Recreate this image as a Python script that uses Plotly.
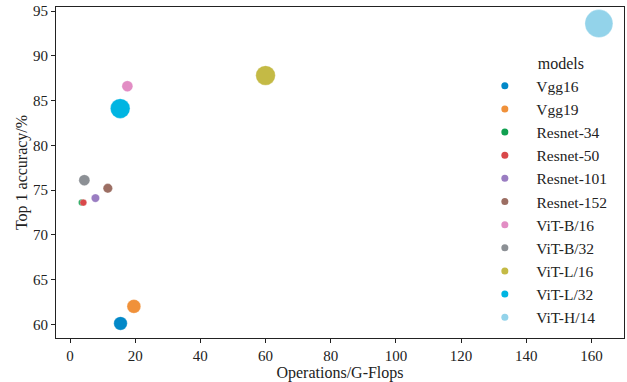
import math
import plotly.graph_objects as go

models = ["Vgg16", "Vgg19", "Resnet-34", "Resnet-50", "Resnet-101", "Resnet-152",
          "ViT-B/16", "ViT-B/32", "ViT-L/16", "ViT-L/32", "ViT-H/14"]
gflops = [15.5, 19.6, 3.6, 4.1, 7.8, 11.6, 17.6, 4.4, 60.0, 15.4, 162.3]
top1 = [60.1, 62.0, 73.6, 73.6, 74.1, 75.2, 86.6, 76.1, 87.8, 84.1, 93.6]
params_m = [138, 144, 21.8, 25.6, 44.5, 60.2, 86, 88, 304, 306, 632]
colors = ["#0288C8", "#F0913A", "#10A050", "#D9484A", "#9A7DC2", "#9C6E63",
          "#E28DC4", "#8C9095", "#C4BA45", "#00B5E2", "#93D3EA"]

d_min, d_max = 6.5, 28.0
pmin, pmax = min(params_m), max(params_m)


def diam(p):
    return math.sqrt(d_min ** 2 + (d_max ** 2 - d_min ** 2) * (p - pmin) / (pmax - pmin))


FONT = "Liberation Serif, Times New Roman, serif"
fig = go.Figure()
for i, m in enumerate(models):
    fig.add_trace(go.Scatter(
        x=[gflops[i]], y=[top1[i]], mode="markers", name=m, showlegend=False,
        marker=dict(color=colors[i], size=diam(params_m[i]),
                    line=dict(color="rgba(255,255,255,0.6)", width=0.5)),
    ))
for i, m in enumerate(models):
    fig.add_trace(go.Scatter(
        x=[None], y=[None], mode="markers", name="   " + m,
        marker=dict(color=colors[i], size=7),
    ))

axis_common = dict(showline=True, linecolor="#222", linewidth=1, mirror=True,
                   ticks="outside", ticklen=4, tickcolor="#222", showgrid=False,
                   zeroline=False, automargin=False,
                   tickfont=dict(family=FONT, size=15, color="#222"))
fig.update_layout(
    width=627, height=382,
    margin=dict(l=56, r=3, t=7, b=44),
    plot_bgcolor="white", paper_bgcolor="white",
    font=dict(family=FONT, size=16, color="#222"),
    xaxis=dict(range=[-4.3, 170], tickvals=[0, 20, 40, 60, 80, 100, 120, 140, 160],
               title=dict(text="Operations/G-Flops", font=dict(family=FONT, size=16), standoff=0),
               **axis_common),
    yaxis=dict(range=[58.47, 95.45], tickvals=[60, 65, 70, 75, 80, 85, 90, 95],
               title=dict(text="Top 1 accuracy/%", font=dict(family=FONT, size=16), standoff=1),
               **axis_common),
    legend=dict(x=0.755, y=0.875, xanchor="left", yanchor="top",
                bgcolor="rgba(0,0,0,0)", font=dict(family=FONT, size=15.5),
                title=dict(text="      models", side="top center", font=dict(family=FONT, size=16)),
                itemwidth=30),
)
fig.write_html("out.html", config={"displayModeBar": False},
               post_script="document.body.style.margin='0';")
